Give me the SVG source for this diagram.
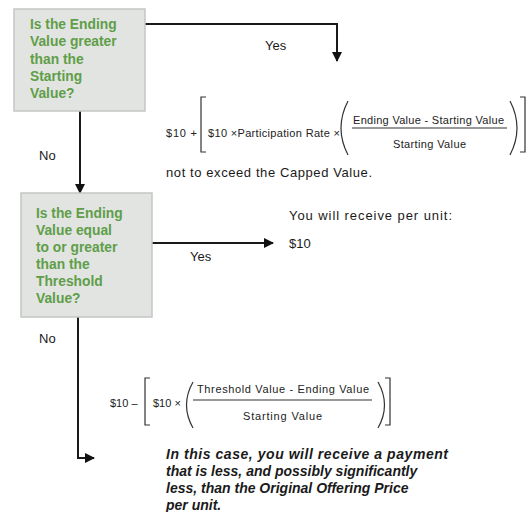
<svg xmlns="http://www.w3.org/2000/svg" width="529" height="512" viewBox="0 0 529 512">
<defs>
<style>
.box{fill:#e2e4e2;stroke:#c4c6c4;stroke-width:1.5}
.q{font-family:"Liberation Sans",Arial,sans-serif;font-weight:bold;font-size:13.8px;fill:#5f9e48}
.t{font-family:"Liberation Sans",Arial,sans-serif;font-size:13px;fill:#1a1a1a}
.f{font-family:"Liberation Sans",Arial,sans-serif;font-size:11px;fill:#222}
.bi{font-family:"Liberation Sans",Arial,sans-serif;font-size:14px;font-weight:bold;font-style:italic;fill:#1a1a1a}
.c{fill:none;stroke:#1a1a1a;stroke-width:2}
.br{fill:none;stroke:#333;stroke-width:1.2}
</style>
<marker id="ah" viewBox="0 0 10 10" refX="9" refY="5" markerWidth="5" markerHeight="5" markerUnits="strokeWidth" orient="auto">
<path d="M0,0 L10,5 L0,10 Z" fill="#111"/>
</marker>
</defs>
<rect width="529" height="512" fill="#fff"/>
<g id="connectors">
<path class="c" d="M145,24 H337 V61" marker-end="url(#ah)"/>
<path class="c" d="M80,111 V193" marker-end="url(#ah)"/>
<path class="c" d="M152,243 H273" marker-end="url(#ah)"/>
<path class="c" d="M78,317 V458 H94" marker-end="url(#ah)"/>
<text class="t" x="265" y="50">Yes</text>
<text class="t" x="39" y="160">No</text>
<text class="t" x="190" y="261">Yes</text>
<text class="t" x="39" y="343">No</text>
</g>
<g id="node-q1">
<rect class="box" x="14" y="9" width="131" height="102"/>
<text class="q" x="30" y="29">Is the Ending</text>
<text class="q" x="30" y="46">Value greater</text>
<text class="q" x="30" y="64">than the</text>
<text class="q" x="30" y="81">Starting</text>
<text class="q" x="30" y="98">Value?</text>
</g>
<g id="node-q2">
<rect class="box" x="21" y="193" width="131" height="124"/>
<text class="q" x="36" y="218">Is the Ending</text>
<text class="q" x="36" y="235">Value equal</text>
<text class="q" x="36" y="252">to or greater</text>
<text class="q" x="36" y="269">than the</text>
<text class="q" x="36" y="286">Threshold</text>
<text class="q" x="36" y="303">Value?</text>
</g>
<g id="node-formula1">
<text class="f" x="166" y="137" textLength="31">$10 +</text>
<path class="br" d="M206,97 H201 V152 H206"/>
<text class="f" x="208" y="137" textLength="132">$10 ×Participation Rate ×</text>
<path class="br" d="M348,101 Q334,128 348,155"/>
<text class="f" x="353" y="124" textLength="151">Ending Value - Starting Value</text>
<line class="br" x1="352" y1="128" x2="507" y2="128"/>
<text class="f" x="393" y="148" textLength="73">Starting Value</text>
<path class="br" d="M510,101 Q524,128 510,155"/>
<path class="br" d="M520,97 H525 V152 H520"/>
<text class="t" x="166" y="177" textLength="206">not to exceed the Capped Value.</text>
</g>
<g id="node-result2">
<text class="t" x="289" y="220" textLength="163">You will receive per unit:</text>
<text class="t" x="289" y="248">$10</text>
</g>
<g id="node-formula2">
<text class="f" x="110" y="407">$10 –</text>
<path class="br" d="M150,378 H145 V425 H150"/>
<text class="f" x="153" y="407">$10 ×</text>
<path class="br" d="M193,382 Q180,405 193,428"/>
<text class="f" x="197" y="393" textLength="172">Threshold Value - Ending Value</text>
<line class="br" x1="193" y1="400" x2="372" y2="400"/>
<text class="f" x="243" y="420" textLength="79">Starting Value</text>
<path class="br" d="M378,382 Q391,405 378,428"/>
<path class="br" d="M385,378 H390 V425 H385"/>
</g>
<g id="node-result3">
<text class="bi" x="166" y="459" textLength="282">In this case, you will receive a payment</text>
<text class="bi" x="166" y="476">that is less, and possibly significantly</text>
<text class="bi" x="166" y="493">less, than the Original Offering Price</text>
<text class="bi" x="166" y="510">per unit.</text>
</g>
</svg>
